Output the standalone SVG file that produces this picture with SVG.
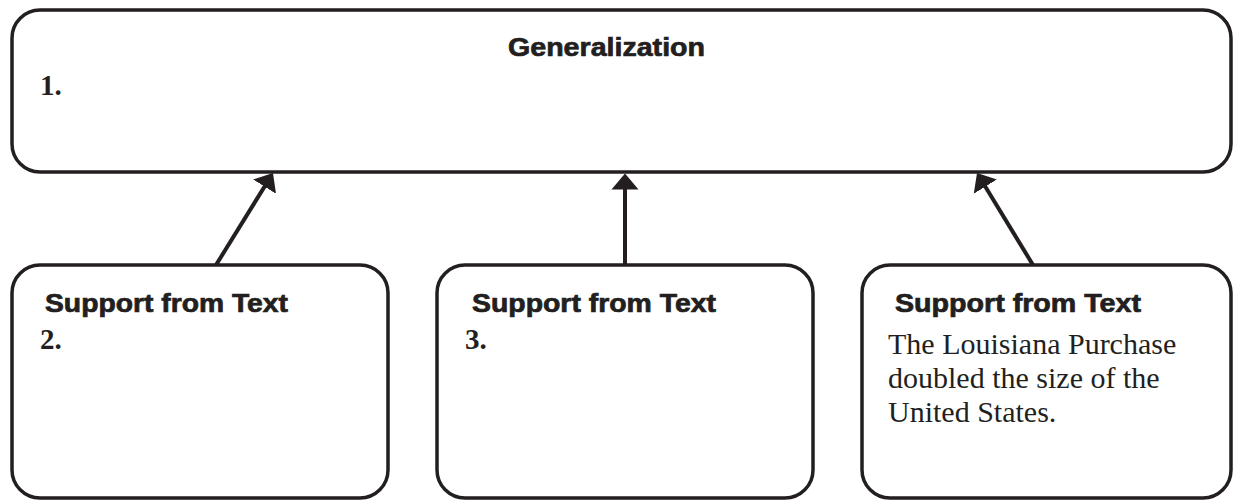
<svg xmlns="http://www.w3.org/2000/svg" width="1233" height="500" viewBox="0 0 1233 500">
<style>
.box{fill:#ffffff;stroke:#231f20;stroke-width:3.5}
.arr{stroke:#231f20;stroke-width:4;fill:none}
.h{font-family:"Liberation Sans",Arial,sans-serif;font-weight:bold;fill:#231f20;stroke:#231f20;stroke-width:0.7}
.s{font-family:"Liberation Serif","Times New Roman",serif;fill:#231f20}
.num{font-family:"Liberation Serif","Times New Roman",serif;font-weight:bold;fill:#231f20;font-size:29px}
</style>
<defs>
<marker id="ah" viewBox="0 -14 16 28" refX="6" refY="0" markerWidth="16" markerHeight="28" markerUnits="userSpaceOnUse" orient="auto">
<path d="M0,-13.5 L16,0 L0,13.5 z" fill="#231f20"/>
</marker>
</defs>
<rect width="1233" height="500" fill="#ffffff"/>
<g id="generalization">
<rect class="box" x="12" y="10" width="1219" height="162" rx="28" ry="28"/>
<text class="h" x="508" y="56" font-size="26" textLength="197" lengthAdjust="spacingAndGlyphs">Generalization</text>
<text class="num" x="40" y="95">1.</text>
</g>
<g id="support1">
<rect class="box" x="12" y="265" width="376" height="233" rx="28" ry="28"/>
<text class="h" x="45" y="312" font-size="25" textLength="243" lengthAdjust="spacingAndGlyphs">Support from Text</text>
<text class="num" x="40" y="349">2.</text>
</g>
<g id="support2">
<rect class="box" x="437" y="265" width="376" height="233" rx="28" ry="28"/>
<text class="h" x="472" y="312" font-size="25" textLength="244" lengthAdjust="spacingAndGlyphs">Support from Text</text>
<text class="num" x="465" y="349">3.</text>
</g>
<g id="support3">
<rect class="box" x="862" y="265" width="369" height="233" rx="28" ry="28"/>
<text class="h" x="895" y="312" font-size="25" textLength="246" lengthAdjust="spacingAndGlyphs">Support from Text</text>
<text class="s" font-size="30">
<tspan x="888" y="354">The Louisiana Purchase</tspan>
<tspan x="888" y="388">doubled the size of the</tspan>
<tspan x="888" y="422">United States.</tspan>
</text>
</g>
<g id="connectors">
<line class="arr" x1="216" y1="265" x2="267.7" y2="181.5" marker-end="url(#ah)"/>
<line class="arr" x1="625" y1="265" x2="625" y2="183.5" marker-end="url(#ah)"/>
<line class="arr" x1="1033" y1="265" x2="982.2" y2="181.5" marker-end="url(#ah)"/>
</g>
</svg>
